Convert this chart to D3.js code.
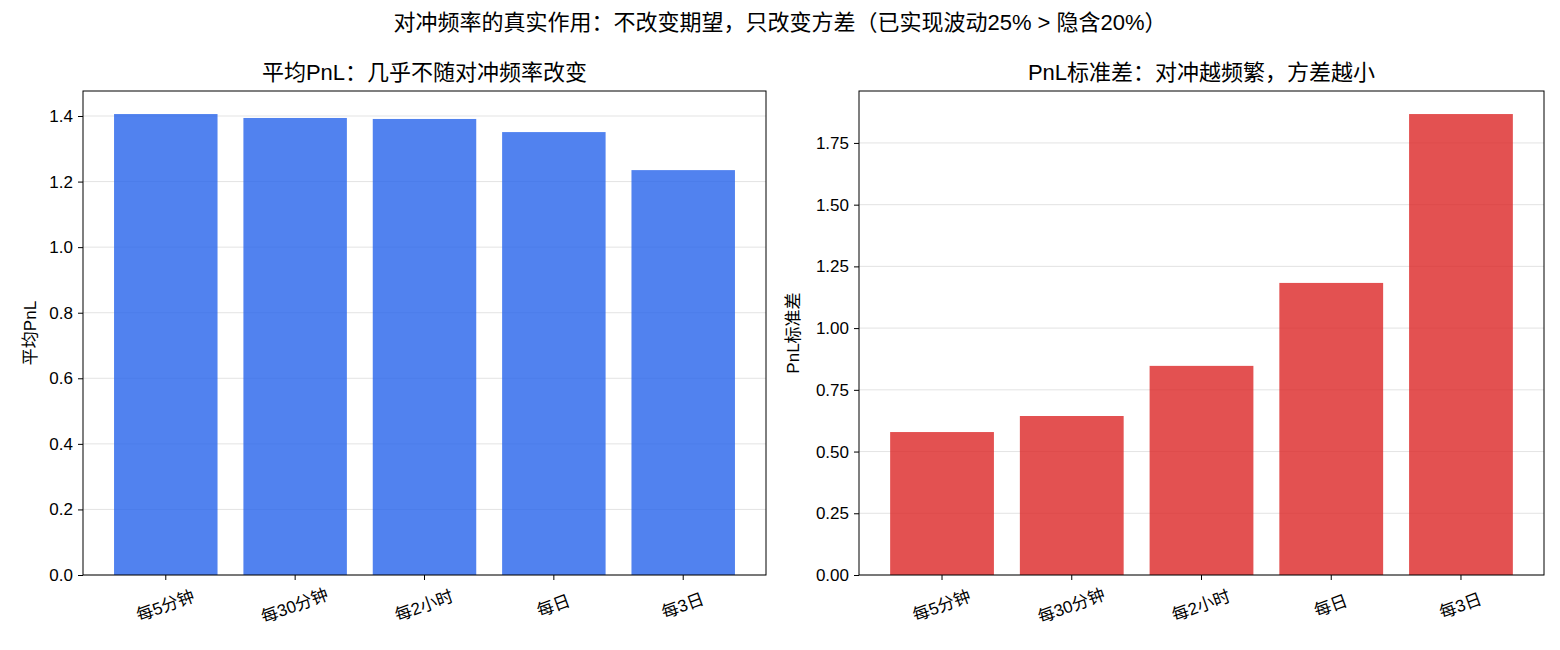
<!DOCTYPE html>
<html>
<head>
<meta charset="utf-8">
<script src="https://cdn.jsdelivr.net/npm/d3@7"></script>
<style>
  body { margin: 0; background: #fff; }
  text { font-family: "Liberation Sans", "Noto Sans CJK SC", sans-serif; fill: #000; }
</style>
</head>
<body>
<svg id="chart" width="1560" height="650"></svg>
<script>
// Chart data
const categories = ["每5分钟", "每30分钟", "每2小时", "每日", "每3日"];
const meanPnl = [1.406, 1.394, 1.391, 1.351, 1.235];
const stdPnl = [0.579, 0.644, 0.847, 1.183, 1.867];
const meanTicks = [0.0, 0.2, 0.4, 0.6, 0.8, 1.0, 1.2, 1.4];
const stdTicks = [0.0, 0.25, 0.5, 0.75, 1.0, 1.25, 1.5, 1.75];

const svg = d3.select("#chart");

svg.append("text")
  .attr("x", 780).attr("y", 30)
  .attr("text-anchor", "middle")
  .style("font-size", "22px")
  .text("对冲频率的真实作用：不改变期望，只改变方差（已实现波动25% > 隐含20%）");

// Draw one bar panel
function drawPanel(opts) {
  const { left, right, top, bottom, values, ticks, fmt, color, title, ylabel, labelX } = opts;

  const x = d3.scaleBand()
    .domain(categories)
    .range([left, right])
    .paddingInner(0.2)
    .paddingOuter(0.24);

  const y = d3.scaleLinear()
    .domain([0, d3.max(values) * 1.05])
    .range([bottom, top]);

  const g = svg.append("g");

  // grid lines
  g.selectAll("line.grid")
    .data(ticks)
    .enter()
    .append("line")
    .attr("x1", left).attr("x2", right)
    .attr("y1", d => y(d)).attr("y2", d => y(d))
    .attr("stroke", "#b0b0b0")
    .attr("stroke-opacity", 0.35)
    .attr("stroke-width", 1);

  // bars
  g.selectAll("rect.bar")
    .data(values)
    .enter()
    .append("rect")
    .attr("x", (d, i) => x(categories[i]))
    .attr("width", x.bandwidth())
    .attr("y", d => y(d))
    .attr("height", d => bottom - y(d))
    .attr("fill", color)
    .attr("fill-opacity", 0.8);

  // y axis
  const yAxis = d3.axisLeft(y).tickValues(ticks).tickFormat(fmt).tickSize(5).tickPadding(5);
  const ya = g.append("g").attr("transform", `translate(${left},0)`).call(yAxis);
  ya.select(".domain").remove();
  ya.selectAll("text").style("font-size", "17px").attr("fill", "#000");
  ya.selectAll("line").attr("stroke", "#000");

  // x axis
  const xAxis = d3.axisBottom(x).tickSize(5).tickPadding(0);
  const xa = g.append("g").attr("transform", `translate(0,${bottom})`).call(xAxis);
  xa.select(".domain").remove();
  xa.selectAll("line").attr("stroke", "#000");
  xa.selectAll("text")
    .style("font-size", "17px")
    .attr("fill", "#000")
    .attr("dy", null)
    .attr("y", 0)
    .attr("transform", "translate(0,32) rotate(-20)")
    .attr("dominant-baseline", "middle")
    .attr("text-anchor", "middle");

  // frame
  g.append("rect")
    .attr("x", left).attr("y", top)
    .attr("width", right - left).attr("height", bottom - top)
    .attr("fill", "none").attr("stroke", "#000").attr("stroke-width", 1);

  // subplot title
  g.append("text")
    .attr("x", (left + right) / 2).attr("y", 80)
    .attr("text-anchor", "middle")
    .style("font-size", "22px")
    .text(title);

  // y label
  g.append("text")
    .attr("transform", `translate(${labelX},${(top + bottom) / 2}) rotate(-90)`)
    .attr("text-anchor", "middle")
    .style("font-size", "17px")
    .text(ylabel);
}

drawPanel({
  left: 83, right: 766, top: 91, bottom: 575,
  values: meanPnl, ticks: meanTicks, fmt: d3.format(".1f"),
  color: "#2563eb", title: "平均PnL：几乎不随对冲频率改变", ylabel: "平均PnL", labelX: 36
});

drawPanel({
  left: 859, right: 1544, top: 91, bottom: 575,
  values: stdPnl, ticks: stdTicks, fmt: d3.format(".2f"),
  color: "#dc2626", title: "PnL标准差：对冲越频繁，方差越小", ylabel: "PnL标准差", labelX: 799
});
</script>
</body>
</html>
